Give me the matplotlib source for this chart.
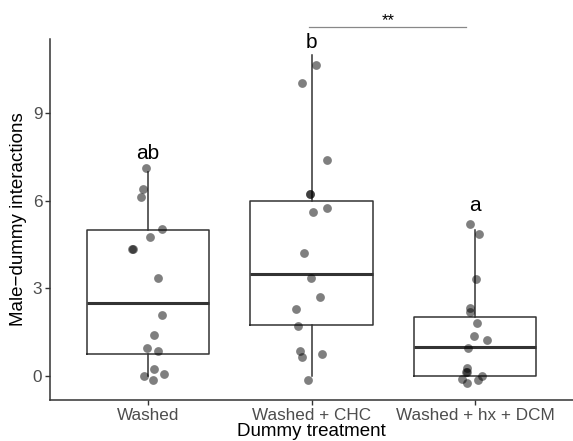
import matplotlib
matplotlib.use("Agg")
import matplotlib.pyplot as plt

plt.rcParams['font.family'] = ['Liberation Sans', 'DejaVu Sans']

categories = ["Washed", "Washed + CHC", "Washed + hx + DCM"]
letters = ["ab", "b", "a"]

# box statistics per category
whis_lo = [0, 0, 0]
q1 = [0.75, 1.75, 0]
median = [2.5, 3.5, 1]
q3 = [5, 6, 2]
whis_hi = [7, 11, 5]

# jittered points (x offset in category units, y value)
washed_dx = [-0.012, -0.029, -0.041, 0.084, 0.012, -0.094, -0.096, 0.059, 0.084, 0.035, -0.008, 0.061, 0.037, 0.098, -0.024, 0.032]
washed_y = [7.11, 6.39, 6.14, 5.03, 4.77, 4.36, 4.34, 3.34, 2.07, 1.41, 0.96, 0.85, 0.24, 0.07, -0.01, -0.15]
chc_dx = [0.029, -0.059, 0.096, -0.008, -0.012, 0.096, 0.009, -0.045, -0.002, 0.051, -0.095, -0.081, -0.069, -0.057, 0.067, -0.024]
chc_y = [10.66, 10.03, 7.4, 6.24, 6.25, 5.75, 5.62, 4.2, 3.36, 2.69, 2.30, 1.72, 0.84, 0.65, 0.74, -0.15]
dcm_dx = [-0.031, 0.026, 0.004, -0.032, -0.029, 0.012, -0.006, 0.073, -0.041, -0.047, -0.055, -0.050, -0.081, 0.043, 0.017, -0.051]
dcm_y = [5.2, 4.85, 3.32, 2.33, 2.19, 1.81, 1.37, 1.22, 0.94, 0.27, 0.12, 0.14, -0.12, 0.01, -0.16, -0.26]

point_dx = [washed_dx, chc_dx, dcm_dx]
point_y = [washed_y, chc_y, dcm_y]

fig = plt.figure(figsize=(5.73, 4.41), dpi=100)
ax = fig.add_axes([50/573, 41/441, 523/573, 361/441])

stats = []
for i in range(3):
    stats.append(dict(whislo=whis_lo[i], q1=q1[i], med=median[i], q3=q3[i],
                      whishi=whis_hi[i], fliers=[], label=categories[i]))
positions = [1, 2, 3]
ax.bxp(stats, positions=positions, widths=0.75, showcaps=False,
       boxprops=dict(color='#333333', linewidth=1.1),
       whiskerprops=dict(color='#333333', linewidth=1.1),
       medianprops=dict(color='#333333', linewidth=2.2),
       zorder=2)

for i in range(3):
    xs = [positions[i] + d for d in point_dx[i]]
    ax.scatter(xs, point_y[i], s=40, color='black', alpha=0.5,
               linewidths=0, zorder=3)

ax.set_xlim(0.4, 3.6)
ax.set_ylim(-0.83, 11.55)
ax.set_yticks([0, 3, 6, 9])
ax.set_xticks(positions)
ax.set_xticklabels(categories)

for s in ['top', 'right']:
    ax.spines[s].set_visible(False)
for s in ['left', 'bottom']:
    ax.spines[s].set_color('#333333')
    ax.spines[s].set_linewidth(1.1)
ax.tick_params(axis='both', colors='#333333', length=3.5, width=1.0,
               labelsize=12.3, labelcolor='#4D4D4D', pad=2)

ax.set_xlabel("Dummy treatment", fontsize=13.5, color='black', labelpad=0)
ax.set_ylabel("Male\u2212dummy interactions", fontsize=13.5, color='black', labelpad=4)

letter_y = [7.63, 11.43, 5.85]
for i in range(3):
    ax.text(positions[i], letter_y[i], letters[i], ha='center', va='center',
            fontsize=15, color='black', clip_on=False)

# significance bar
ax.plot([1.985, 2.945], [11.97, 11.97], color='#888888', linewidth=0.9, clip_on=False)
ax.text(2.47, 12.02, "**", ha='center', va='baseline', fontsize=12, clip_on=False)

fig.savefig("out.png", dpi=100)
